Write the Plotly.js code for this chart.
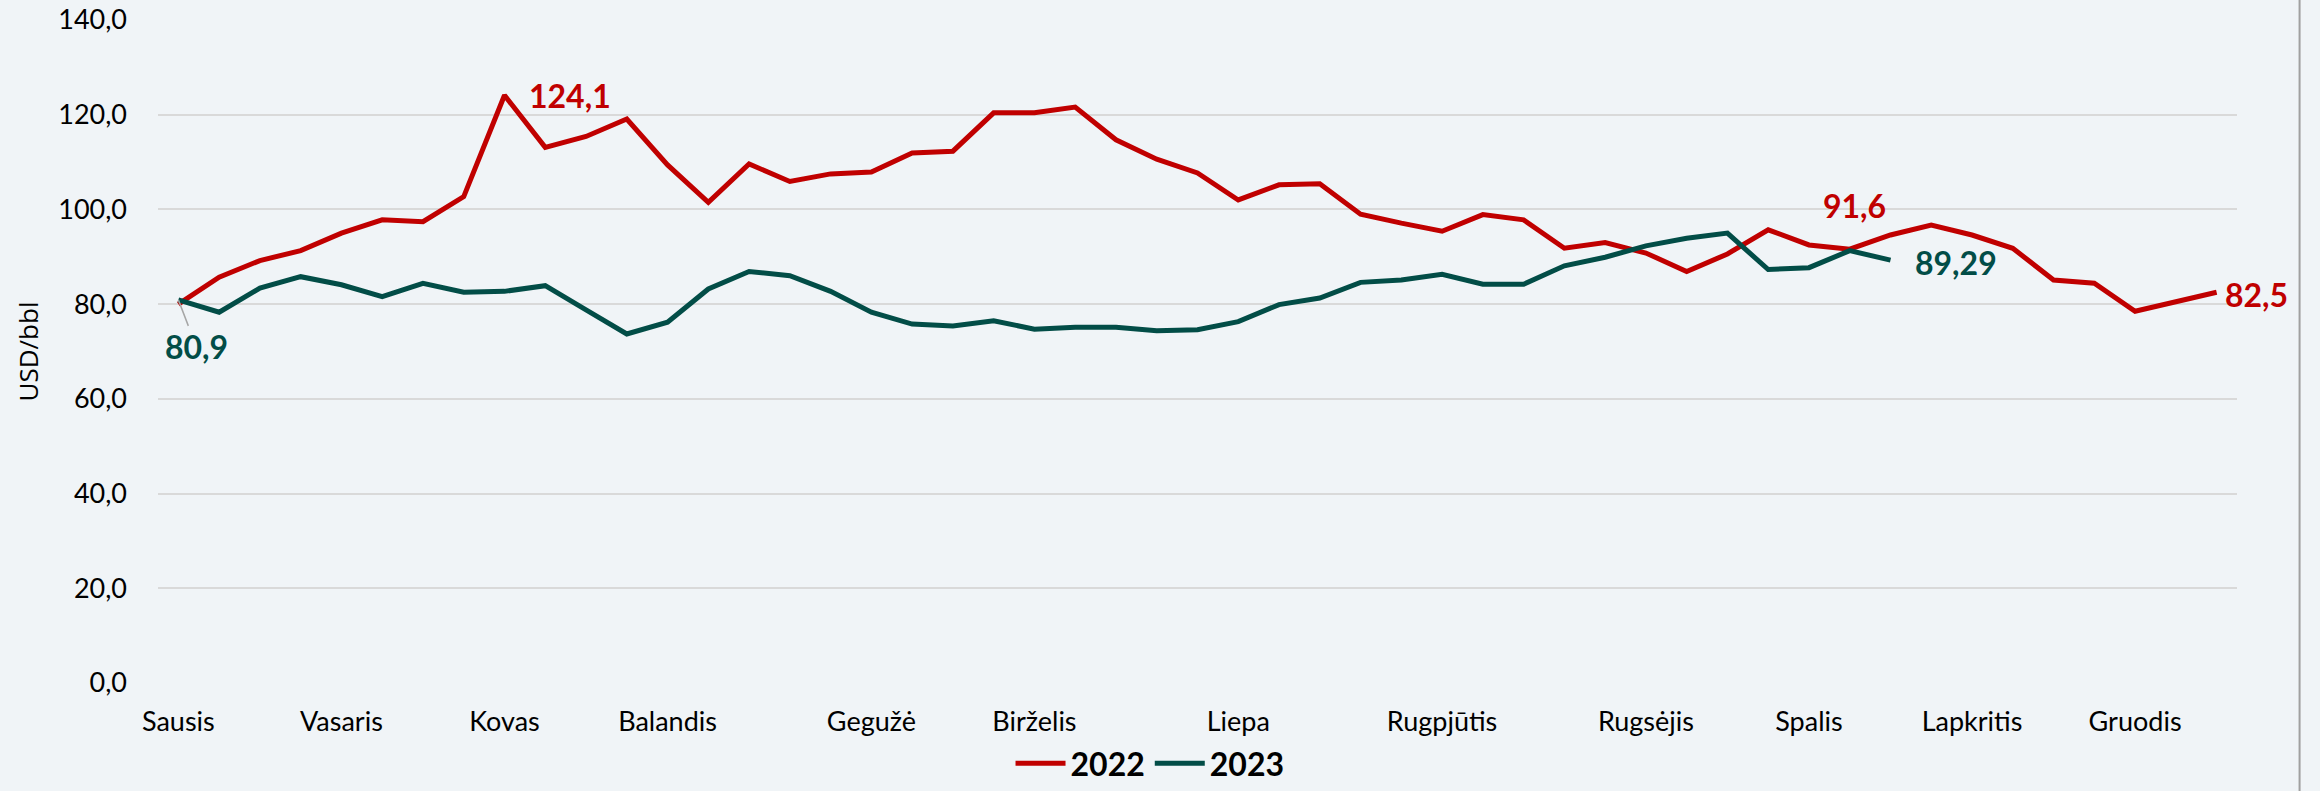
<!DOCTYPE html>
<html>
<head>
<meta charset="utf-8">
<script src="https://cdn.plot.ly/plotly-3.0.1.min.js"></script>
<style>
  html, body { margin: 0; padding: 0; background: #F0F4F7; }
  #chart { width: 2320px; height: 791px; }
</style>
</head>
<body>
<div id="chart"></div>
<script>
// Weekly Brent price, USD/bbl
const price2022 = [80.0, 85.7, 89.2, 91.3, 95.0, 97.8, 97.4, 102.7, 124.1, 113.1,
  115.4, 119.1, 109.4, 101.5, 109.6, 105.9, 107.5, 107.9, 111.9, 112.3,
  120.4, 120.4, 121.6, 114.7, 110.6, 107.7, 102.0, 105.2, 105.4, 99.0,
  97.1, 95.4, 98.9, 97.8, 91.8, 93.0, 90.8, 86.9, 90.6, 95.7,
  92.5, 91.6, 94.6, 96.7, 94.6, 91.8, 85.1, 84.4, 78.5, 80.6, 82.5];
const price2023 = [80.9, 78.3, 83.4, 85.8, 84.1, 81.6, 84.4, 82.5, 82.7, 83.9,
  78.8, 73.7, 76.2, 83.2, 86.9, 86.0, 82.7, 78.3, 75.8, 75.4,
  76.5, 74.7, 75.1, 75.1, 74.4, 74.6, 76.3, 79.9, 81.3, 84.6,
  85.1, 86.3, 84.2, 84.2, 88.1, 89.9, 92.3, 93.9, 95.0, 87.3,
  87.7, 91.3, 89.29];
const monthNames = ["Sausis", "Vasaris", "Kovas", "Balandis", "Gegužė", "Birželis",
  "Liepa", "Rugpjūtis", "Rugsėjis", "Spalis", "Lapkritis", "Gruodis"];
const monthWeekIndex = [0, 4, 8, 12, 17, 21, 26, 31, 36, 40, 44, 48];
const seriesNames = ["2022", "2023"];

const RED = "#C00000";
const TEAL = "#024D47";
const weeks2022 = price2022.map((_, i) => i);
const weeks2023 = price2023.map((_, i) => i);
const fmt = (v, d) => v.toFixed(d).replace(".", ",");

const traces = [
  { x: weeks2022, y: price2022, name: seriesNames[0], type: "scatter", mode: "lines",
    line: { color: RED, width: 5 }, hoverinfo: "skip" },
  { x: weeks2023, y: price2023, name: seriesNames[1], type: "scatter", mode: "lines",
    line: { color: TEAL, width: 5 }, hoverinfo: "skip" }
];

const labelFont = (c) => ({ family: "Lato, 'Open Sans', sans-serif", size: 32, color: c, weight: 700 });

// labelled points
const iMax = price2022.indexOf(Math.max(...price2022));
const iRed2 = 41;
const iLast22 = price2022.length - 1;
const iLast23 = price2023.length - 1;

const annotations = [
  { x: iMax, y: price2022[iMax], text: "<b>" + fmt(price2022[iMax], 1) + "</b>",
    showarrow: false, xanchor: "left", yanchor: "middle", xshift: 22, yshift: 0, font: labelFont(RED) },
  { x: iRed2, y: price2022[iRed2], text: "<b>" + fmt(price2022[iRed2], 1) + "</b>",
    showarrow: false, xanchor: "center", yanchor: "bottom", xshift: 5, yshift: 22, font: labelFont(RED) },
  { x: iLast22, y: price2022[iLast22], text: "<b>" + fmt(price2022[iLast22], 1) + "</b>",
    showarrow: false, xanchor: "left", yanchor: "middle", xshift: 6, yshift: -2, font: labelFont(RED) },
  { x: iLast23, y: price2023[iLast23], text: "<b>" + fmt(price2023[iLast23], 2) + "</b>",
    showarrow: false, xanchor: "left", yanchor: "middle", xshift: 22, yshift: -2, font: labelFont(TEAL) },
  { x: 0, y: price2023[0], text: "<b>" + fmt(price2023[0], 1) + "</b>",
    showarrow: true, arrowhead: 0, arrowwidth: 1.5, arrowcolor: "#A6A6A6",
    ax: 18, ay: 47, standoff: 0, font: labelFont(TEAL) }
];

const tickFont = { family: "Lato, 'Open Sans', sans-serif", size: 27, color: "#000000" };

const layout = {
  width: 2320, height: 791,
  paper_bgcolor: "#F0F4F7", plot_bgcolor: "#F0F4F7",
  margin: { l: 158, r: 83, t: 20, b: 108 },
  separators: ",.",
  showlegend: true,
  legend: {
    orientation: "h", xref: "container", yref: "container",
    x: 0.4957, xanchor: "center", y: 0.0, yanchor: "bottom",
    font: { family: "Lato, 'Open Sans', sans-serif", size: 32, color: "#000000", weight: 700 },
    bgcolor: "rgba(0,0,0,0)", itemwidth: 50, tracegroupgap: 0
  },
  xaxis: {
    range: [-0.5, 50.5], tickmode: "array", tickvals: monthWeekIndex, ticktext: monthNames,
    showgrid: false, zeroline: false, showline: false, ticks: "",
    tickfont: tickFont, ticklabelstandoff: 20, fixedrange: true
  },
  yaxis: {
    range: [0, 140], dtick: 20, tickformat: ".1f",
    showgrid: true, gridcolor: "#D9D9D9", gridwidth: 2, zeroline: false, showline: false,
    ticks: "", tickfont: tickFont, ticklabelstandoff: 30,
    title: { text: "USD/bbl", font: { family: "'Open Sans', sans-serif", size: 26, color: "#000000" }, standoff: 12 },
    fixedrange: true
  },
  annotations: annotations,
  shapes: [
    { type: "line", xref: "paper", yref: "paper", x0: 1.0301, x1: 1.0301, y0: -0.2, y1: 1.05,
      line: { color: "#A0A0A0", width: 2 } }
  ]
};

Plotly.newPlot("chart", traces, layout, { displayModeBar: false, staticPlot: true });
</script>
</body>
</html>
